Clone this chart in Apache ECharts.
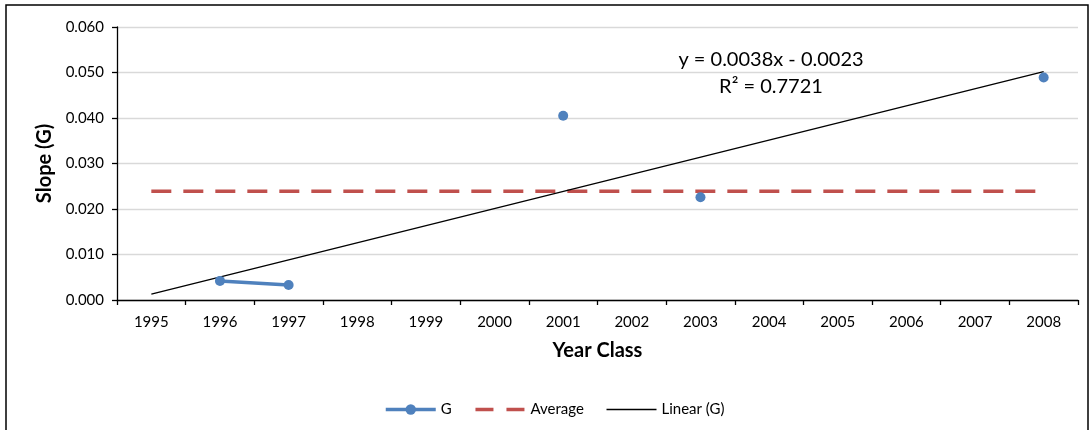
<!DOCTYPE html>
<html>
<head>
<meta charset="utf-8">
<script src="https://cdn.jsdelivr.net/npm/echarts@6/dist/echarts.min.js"></script>
<style>
html,body{margin:0;padding:0;background:#fff;}
#c{width:1089px;height:430px;}
</style>
</head>
<body>
<div id="c"></div>
<script>
var categories = ['1995','1996','1997','1998','1999','2000','2001','2002','2003','2004','2005','2006','2007','2008'];
var gValues = [null, 0.0042, 0.0033, null, null, null, 0.0405, null, 0.0226, null, null, null, null, 0.0489];
var averageValues = [0.0239,0.0239,0.0239,0.0239,0.0239,0.0239,0.0239,0.0239,0.0239,0.0239,0.0239,0.0239,0.0239,0.0239];
var trendValues = [0.0013, null, null, null, null, null, null, null, null, null, null, null, null, 0.0502];
var equationText = 'y = 0.0038x - 0.0023';
var r2Text = 'R² = 0.7721';
var yTicks = [0, 0.01, 0.02, 0.03, 0.04, 0.05, 0.06];

var FONT = 'Lato';
var chart = echarts.init(document.getElementById('c'), null, {renderer:'canvas'});
chart.setOption({
  animation: false,
  backgroundColor: '#fff',
  textStyle: {fontFamily: FONT},
  grid: {left: 117, right: 11, top: 27, bottom: 130, containLabel: false},
  xAxis: {
    type: 'category',
    data: categories,
    boundaryGap: true,
    name: 'Year Class',
    nameLocation: 'middle',
    nameGap: 41,
    nameTextStyle: {fontFamily: FONT, fontSize: 20, fontWeight: 'bold', color: '#000'},
    axisLine: {lineStyle: {color: '#000', width: 1.3}},
    axisTick: {show: true, alignWithLabel: false, length: 5, lineStyle: {color: '#000', width: 1.3}},
    axisLabel: {fontFamily: FONT, fontSize: 15, color: '#000', margin: 15, interval: 0},
    splitLine: {show: false}
  },
  yAxis: {
    type: 'value',
    min: yTicks[0],
    max: yTicks[yTicks.length - 1],
    interval: 0.01,
    name: 'Slope (G)',
    nameLocation: 'middle',
    nameGap: 62,
    nameRotate: 90,
    nameTextStyle: {fontFamily: FONT, fontSize: 20, fontWeight: 'bold', color: '#000'},
    axisLine: {show: true, lineStyle: {color: '#000', width: 1.3}},
    axisTick: {show: true, length: 5, lineStyle: {color: '#000', width: 1.3}},
    axisLabel: {fontFamily: FONT, fontSize: 15, color: '#000', margin: 13,
      formatter: function (v) { return v.toFixed(3); }},
    splitLine: {show: true, lineStyle: {color: '#d9d9d9', width: 1.3}}
  },
  legend: {
    top: 397,
    left: 379,
    itemWidth: 50,
    itemHeight: 13,
    itemGap: 22,
    textStyle: {fontFamily: FONT, fontSize: 15, color: '#000'},
    data: [
      {name: 'G', lineStyle: {width: 3.5, color: '#4F81BD'}},
      {name: 'Average', itemStyle: {opacity: 0}, lineStyle: {width: 3.5, color: '#C0504D', type: [18, 13]}},
      {name: 'Linear (G)', itemStyle: {opacity: 0}, lineStyle: {width: 1.3, color: '#000'}}
    ]
  },
  series: [
    {
      name: 'Average',
      type: 'line',
      data: averageValues,
      symbol: 'none',
      lineStyle: {color: '#C0504D', width: 3.5, type: [20, 12]},
      itemStyle: {color: '#C0504D'},
      z: 2
    },
    {
      name: 'Linear (G)',
      type: 'line',
      data: trendValues,
      connectNulls: true,
      symbol: 'none',
      lineStyle: {color: '#000', width: 1.3},
      itemStyle: {color: '#000'},
      z: 3
    },
    {
      name: 'G',
      type: 'line',
      data: gValues,
      connectNulls: false,
      symbol: 'circle',
      symbolSize: 10,
      showAllSymbol: true,
      lineStyle: {color: '#4F81BD', width: 3.5},
      itemStyle: {color: '#4F81BD'},
      z: 4
    }
  ],
  graphic: [
    {type: 'rect', shape: {x: 6, y: 5, width: 1082, height: 440},
     style: {fill: 'none', stroke: '#000', lineWidth: 1.5}, silent: true},
    {type: 'text', x: 771, y: 60,
     style: {text: equationText, font: '20px ' + FONT, fill: '#000', textAlign: 'center', textVerticalAlign: 'middle'}},
    {type: 'text', x: 771, y: 87,
     style: {text: r2Text, font: '20px ' + FONT, fill: '#000', textAlign: 'center', textVerticalAlign: 'middle'}}
  ]
});
</script>
</body>
</html>
